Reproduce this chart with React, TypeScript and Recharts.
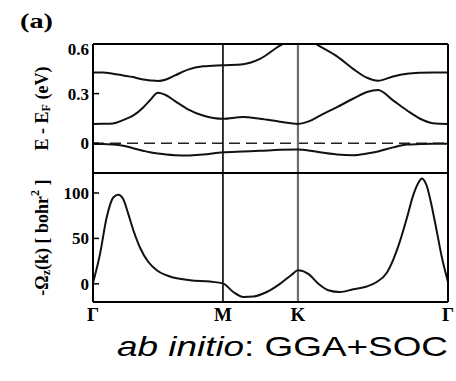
import { LineChart, Line, XAxis, YAxis, ReferenceLine, Label } from 'recharts'

// High-symmetry path Γ → M → K → Γ (units of 2π/a)
const K_M = 0.866
const K_K = 1.366
const K_END = 2.366

const pathTicks = [0, K_M, K_K, K_END]
const pathLabels = ['Γ', 'M', 'K', 'Γ']

const energyTicks = [0, 0.3, 0.6]
const berryTicks = [0, 50, 100]

// band energies E - E_F (eV) along the path
const bandK = [
  0, 0.067, 0.133, 0.2, 0.267, 0.333, 0.38, 0.433, 0.487, 0.547, 0.633, 0.733,
  0.866, 1.0, 1.113, 1.246, 1.366, 1.446, 1.513, 1.626, 1.733, 1.826, 1.9, 2.0,
  2.093, 2.18, 2.266, 2.366,
]
const upperBand = [
  0.428, 0.428, 0.42, 0.41, 0.4, 0.385, 0.38, 0.376, 0.385, 0.41, 0.445, 0.465,
  0.472, 0.478, 0.51, 0.59, 0.64, 0.62, 0.585, 0.525, 0.45, 0.396, 0.378, 0.404,
  0.42, 0.426, 0.428, 0.428,
]
const middleBand = [
  0.117, 0.118, 0.12, 0.14, 0.167, 0.215, 0.26, 0.305, 0.29, 0.255, 0.205, 0.168,
  0.148, 0.158, 0.148, 0.13, 0.117, 0.135, 0.167, 0.218, 0.269, 0.31, 0.322, 0.259,
  0.198, 0.148, 0.121, 0.117,
]
const lowerBand = [
  -0.005, -0.005, -0.008, -0.015, -0.03, -0.045, -0.055, -0.062, -0.068, -0.072, -0.074, -0.068,
  -0.055, -0.05, -0.046, -0.04, -0.038, -0.045, -0.055, -0.068, -0.072, -0.062, -0.05, -0.025,
  -0.008, -0.005, -0.003, -0.003,
]

// Berry curvature -Ω_z(k) (bohr²)
const berryK = [
  0, 0.047, 0.091, 0.135, 0.169, 0.202, 0.235, 0.269, 0.313, 0.369, 0.425, 0.513,
  0.647, 0.78, 0.866, 0.935, 1.002, 1.068, 1.158, 1.246, 1.324, 1.366, 1.435, 1.502,
  1.568, 1.646, 1.735, 1.824, 1.891, 1.957, 2.002, 2.046, 2.091, 2.135, 2.168, 2.191,
  2.224, 2.257, 2.291, 2.324, 2.366,
]
const berryOmega = [
  1, 33, 73, 95, 98, 93, 77, 59, 40, 24, 15, 8,
  4, 2.5, 0.5, -9, -14.5, -14, -9, 0, 10, 15, 11, 0,
  -7, -9, -6, -3, 2, 12, 27, 47, 72, 98, 111, 116,
  108, 86, 58, 30, 2,
]

const bandData = bandK.map((k, i) => ({
  k,
  upper: upperBand[i],
  middle: middleBand[i],
  lower: lowerBand[i],
}))
const berryData = berryK.map((k, i) => ({ k, omega: berryOmega[i] }))

const SERIF = '"Liberation Serif", "Times New Roman", serif'
const SANS = '"Liberation Sans", Arial, sans-serif'
const tickFont = { fontFamily: SERIF, fontSize: 17, fontWeight: 700, fill: '#000' }
const titleFont = { fontFamily: SERIF, fontSize: 18, fontWeight: 700, fill: '#000' }
const frame = { stroke: '#000', strokeWidth: 2 }
const inTick = { stroke: '#000', strokeWidth: 1.5 }
const curve = '#111'

const W = 456
const H = 381
const PLOT_LEFT = 93
const SPLIT = 173

// energy tick labels; the topmost one sits just under the frame
function EnergyTick({ x, y, payload }: any) {
  const dy = payload.value === 0.6 ? 11 : 6
  return (
    <text x={x} y={y + dy} textAnchor="end" style={tickFont}>
      {String(payload.value)}
    </text>
  )
}

function EnergyTitle({ viewBox }: any) {
  const cx = viewBox.x + 42
  const cy = viewBox.y + viewBox.height / 2
  return (
    <text x={cx} y={cy} transform={`rotate(-90 ${cx} ${cy})`} textAnchor="middle" dominantBaseline="central" style={titleFont}>
      E - E<tspan dy={4} fontSize={12}>F</tspan>
      <tspan dy={-4}> (eV)</tspan>
    </text>
  )
}

function BerryTitle({ viewBox }: any) {
  const cx = viewBox.x + 42
  const cy = viewBox.y + viewBox.height / 2
  return (
    <text x={cx} y={cy} transform={`rotate(-90 ${cx} ${cy})`} textAnchor="middle" dominantBaseline="central" style={titleFont}>
      -Ω<tspan dy={4} fontSize={12}>z</tspan>
      <tspan dy={-4}>(k) [ bohr</tspan>
      <tspan dy={-7} fontSize={12}>2</tspan>
      <tspan dy={7}> ]</tspan>
    </text>
  )
}

export default function App() {
  return (
    <div style={{ position: 'absolute', left: 0, top: 0, width: W, height: H, background: '#fff' }}>
      {/* band structure */}
      <LineChart
        width={W}
        height={H}
        data={bandData}
        margin={{ top: 43, right: 7, bottom: H - SPLIT - 1, left: 0 }}
        style={{ position: 'absolute', left: 0, top: 0 }}
      >
        <XAxis type="number" dataKey="k" domain={[0, K_END]} ticks={pathTicks} tick={false} tickLine={false} height={1} axisLine={frame} />
        <XAxis xAxisId="top" orientation="top" type="number" dataKey="k" domain={[0, K_END]} ticks={pathTicks} tick={false} tickLine={false} height={1} axisLine={frame} />
        <YAxis
          type="number"
          domain={[-0.18, 0.6]}
          allowDataOverflow
          ticks={energyTicks}
          interval={0}
          width={PLOT_LEFT}
          tick={<EnergyTick />}
          tickSize={-6}
          tickMargin={10}
          tickLine={inTick}
          axisLine={frame}
        >
          <Label content={<EnergyTitle />} />
        </YAxis>
        <YAxis
          yAxisId="right"
          orientation="right"
          type="number"
          domain={[-0.18, 0.6]}
          allowDataOverflow
          ticks={energyTicks}
          interval={0}
          width={1}
          tick={false}
          tickSize={-6}
          tickLine={inTick}
          axisLine={frame}
        />
        <ReferenceLine y={0} stroke="#222" strokeWidth={1.7} strokeDasharray="11 6" />
        <ReferenceLine x={K_M} stroke="#000" strokeWidth={1.6} />
        <ReferenceLine x={K_K} stroke="#6e6e6e" strokeWidth={2.2} />
        <Line dataKey="upper" type="monotone" stroke={curve} strokeWidth={2} dot={false} isAnimationActive={false} />
        <Line dataKey="middle" type="monotone" stroke={curve} strokeWidth={2} dot={false} isAnimationActive={false} />
        <Line dataKey="lower" type="monotone" stroke={curve} strokeWidth={2} dot={false} isAnimationActive={false} />
      </LineChart>

      {/* Berry curvature */}
      <LineChart
        width={W}
        height={H}
        data={berryData}
        margin={{ top: SPLIT - 1, right: 7, bottom: 49, left: 0 }}
        style={{ position: 'absolute', left: 0, top: 0 }}
      >
        <XAxis
          type="number"
          dataKey="k"
          domain={[0, K_END]}
          ticks={pathTicks}
          interval={0}
          tickFormatter={(v: number) => pathLabels[pathTicks.indexOf(v)] ?? ''}
          tick={{ ...tickFont, fontSize: 19 }}
          tickLine={false}
          tickSize={0}
          tickMargin={6}
          height={30}
          axisLine={frame}
        />
        <XAxis xAxisId="top" orientation="top" type="number" dataKey="k" domain={[0, K_END]} ticks={pathTicks} tick={false} tickLine={false} height={1} axisLine={frame} />
        <YAxis
          type="number"
          domain={[-20, 122]}
          allowDataOverflow
          ticks={berryTicks}
          interval={0}
          width={PLOT_LEFT}
          tick={tickFont}
          tickSize={-6}
          tickMargin={10}
          tickLine={inTick}
          axisLine={frame}
        >
          <Label content={<BerryTitle />} />
        </YAxis>
        <YAxis
          yAxisId="right"
          orientation="right"
          type="number"
          domain={[-20, 122]}
          allowDataOverflow
          ticks={berryTicks}
          interval={0}
          width={1}
          tick={false}
          tickSize={-6}
          tickLine={inTick}
          axisLine={frame}
        />
        <ReferenceLine x={K_M} stroke="#000" strokeWidth={1.6} />
        <ReferenceLine x={K_K} stroke="#6e6e6e" strokeWidth={2.2} />
        <Line dataKey="omega" type="monotone" stroke={curve} strokeWidth={2} dot={false} isAnimationActive={false} />
      </LineChart>

      {/* panel tag and caption */}
      <svg width={W} height={H} style={{ position: 'absolute', left: 0, top: 0, pointerEvents: 'none' }}>
        <text x={20} y={28} textLength={33} lengthAdjust="spacingAndGlyphs" style={{ fontFamily: SERIF, fontWeight: 700, fontSize: 22 }}>
          (a)
        </text>
        <text x={117} y={356} textLength={331} lengthAdjust="spacingAndGlyphs" style={{ fontFamily: SANS, fontSize: 28 }}>
          <tspan fontStyle="italic">ab initio</tspan>: GGA+SOC
        </text>
      </svg>
    </div>
  )
}
